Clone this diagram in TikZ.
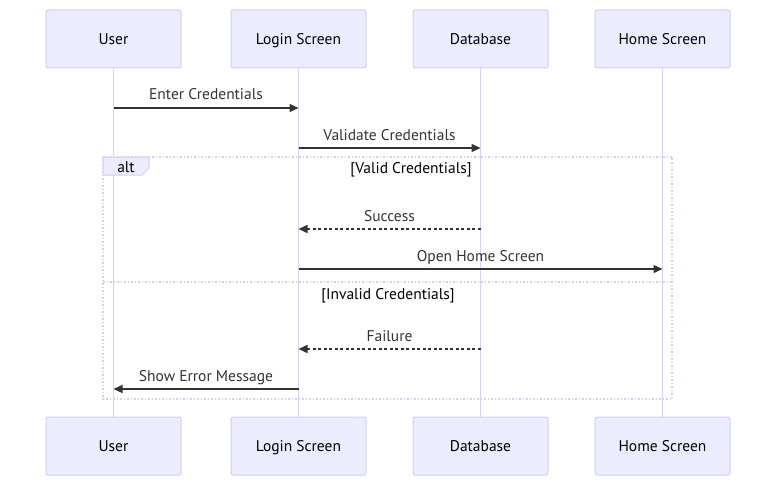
\documentclass[tikz,border=0pt]{standalone}
\usepackage{fontspec}
\setmainfont{PT Sans}
\usetikzlibrary{arrows.meta,calc}
\definecolor{actfill}{HTML}{ECECFF}
\definecolor{actline}{HTML}{D6CCF4}
\definecolor{lifec}{HTML}{D8CFF4}
\definecolor{msgc}{HTML}{333333}
\begin{document}
\begin{tikzpicture}[x=1pt,y=-1pt,
  actor/.style={draw=actline,fill=actfill,line width=1pt,rounded corners=2pt,minimum width=135pt,minimum height=58pt,inner sep=0pt,font=\fontsize{15.5}{17}\selectfont,text=black,text height=11pt,text depth=0pt},
  life/.style={draw=lifec,line width=1.8pt},
  msg/.style={draw=msgc,line width=1.4pt,-{Triangle[length=9pt,width=8pt]}},
  rmsg/.style={msg,dash pattern=on 3pt off 2.5pt},
  mlabel/.style={font=\fontsize{15.5}{17}\selectfont,text=msgc,inner sep=0pt,anchor=base},
  glabel/.style={font=\fontsize{15.5}{17}\selectfont,text=black,inner sep=0pt,anchor=base},
  frame/.style={draw=actline,line width=1.2pt,dash pattern=on 1.5pt off 2pt}]
\useasboundingbox (0,0) rectangle (784,492);
% actors
\node[actor] (uT) at (113.5,39) {User};
\node[actor] (lT) at (298.5,39) {Login Screen};
\node[actor] (dT) at (480.5,39) {Database};
\node[actor] (hT) at (662.5,39) {Home Screen};
\node[actor] (uB) at (113.5,446) {User};
\node[actor] (lB) at (298.5,446) {Login Screen};
\node[actor] (dB) at (480.5,446) {Database};
\node[actor] (hB) at (662.5,446) {Home Screen};
% lifelines
\draw[life] (uT.south) -- (uB.north);
\draw[life] (lT.south) -- (lB.north);
\draw[life] (dT.south) -- (dB.north);
\draw[life] (hT.south) -- (hB.north);
% alt frame
\coordinate (fTL) at (103,157);
\coordinate (fBR) at (672,399);
\draw[frame] (fTL) rectangle (fBR);
\coordinate (sepL) at (103,282);
\coordinate (sepR) at (672,282);
\draw[frame] (sepL) -- (sepR);
\draw[draw=actline,fill=actfill,line width=1pt] (103,157) -- (149,157) -- (149,168) -- (142,175) -- (103,175) -- cycle;
\node[glabel] (altl) at (126,172.5) {alt};
\node[glabel] (g1) at (411,173) {[Valid Credentials]};
\node[glabel] (g2) at (388,299) {[Invalid Credentials]};
% message rows
\coordinate (y1) at (0,108);
\coordinate (y2) at (0,148);
\coordinate (y3) at (0,229);
\coordinate (y4) at (0,269);
\coordinate (y5) at (0,349);
\coordinate (y6) at (0,389);
\draw[msg] (uT |- y1) -- (lT |- y1);
\node[mlabel] (t1) at ($(uT |- y1)!0.5!(lT |- y1)+(0,-8)$) {Enter Credentials};
\draw[msg] (lT |- y2) -- (dT |- y2);
\node[mlabel] (t2) at ($(lT |- y2)!0.5!(dT |- y2)+(0,-8)$) {Validate Credentials};
\draw[rmsg] (dT |- y3) -- (lT |- y3);
\node[mlabel] (t3) at ($(lT |- y3)!0.5!(dT |- y3)+(0,-8)$) {Success};
\draw[msg] (lT |- y4) -- (hT |- y4);
\node[mlabel] (t4) at ($(lT |- y4)!0.5!(hT |- y4)+(0,-8)$) {Open Home Screen};
\draw[rmsg] (dT |- y5) -- (lT |- y5);
\node[mlabel] (t5) at ($(lT |- y5)!0.5!(dT |- y5)+(0,-8)$) {Failure};
\draw[msg] (lT |- y6) -- (uT |- y6);
\node[mlabel] (t6) at ($(uT |- y6)!0.5!(lT |- y6)+(0,-8)$) {Show Error Message};
\end{tikzpicture}
\end{document}
